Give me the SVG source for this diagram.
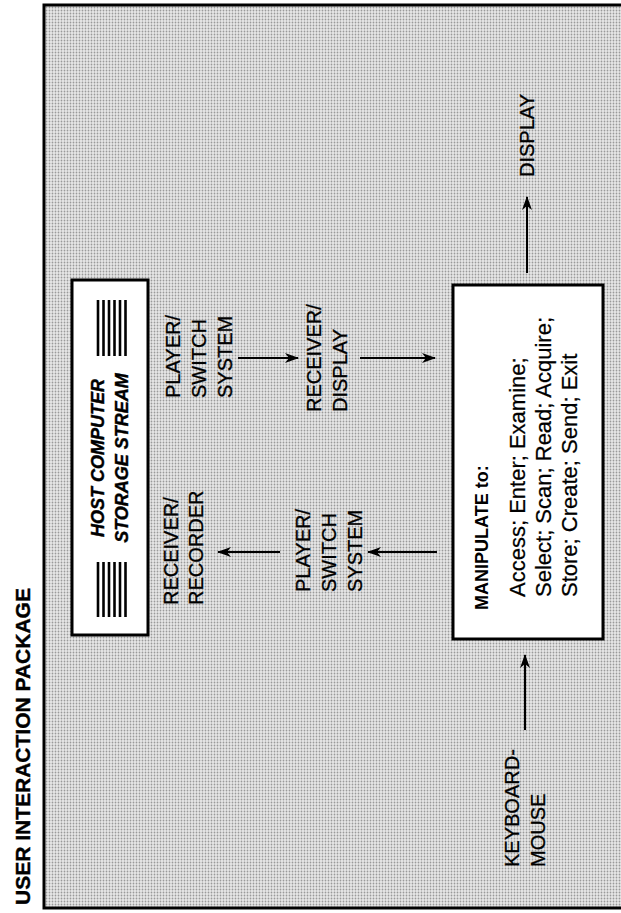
<svg xmlns="http://www.w3.org/2000/svg" width="621" height="913" viewBox="0 0 621 913">
<style>
  text { font-family: "Liberation Sans", Arial, sans-serif; fill: #000; }
  .lbl { font-size: 20px; stroke: #000; stroke-width: 0.3; }
  .title { font-size: 21px; font-weight: bold; stroke: #000; stroke-width: 0.4; }
  .host { font-size: 18px; font-weight: bold; font-style: italic; stroke: #000; stroke-width: 0.4; }
  .mb { font-size: 18px; font-weight: bold; }
  .mt { font-size: 22px; stroke: #000; stroke-width: 0.25; }
  .box { fill: #fff; stroke: #000; stroke-width: 3; }
  .conn { stroke: #000; stroke-width: 2; fill: none; marker-end: url(#ah); }
  .bar { stroke: #000; stroke-width: 2.6; }
</style>
<defs>
  <pattern id="dots" width="3" height="3" patternUnits="userSpaceOnUse">
    <rect width="3" height="3" fill="#e8e8e8"/>
    <circle cx="1.5" cy="1.5" r="0.9" fill="#9a9a9a"/>
  </pattern>
  <marker id="ah" viewBox="0 0 14 10" refX="13" refY="5" markerWidth="14" markerHeight="10" markerUnits="userSpaceOnUse" orient="auto">
    <path d="M0,0 L14,5 L0,10 L4,5 z" fill="#000"/>
  </marker>
</defs>
<rect width="621" height="913" fill="#fff"/>
<g id="title">
  <text class="title" transform="translate(30,905) rotate(-90)">USER INTERACTION PACKAGE</text>
</g>
<g id="frame">
  <rect x="44" y="5" width="600" height="903" fill="url(#dots)" stroke="#000" stroke-width="3"/>
</g>
<g id="host">
  <rect class="box" x="72" y="280" width="76" height="355"/>
  <g id="bars-top">
    <line class="bar" x1="98" y1="300" x2="98" y2="356"/>
    <line class="bar" x1="103.5" y1="300" x2="103.5" y2="356"/>
    <line class="bar" x1="109" y1="300" x2="109" y2="356"/>
    <line class="bar" x1="114.5" y1="300" x2="114.5" y2="356"/>
    <line class="bar" x1="120" y1="300" x2="120" y2="356"/>
    <line class="bar" x1="125.5" y1="300" x2="125.5" y2="356"/>
  </g>
  <g id="bars-bottom">
    <line class="bar" x1="98" y1="562" x2="98" y2="617"/>
    <line class="bar" x1="103.5" y1="562" x2="103.5" y2="617"/>
    <line class="bar" x1="109" y1="562" x2="109" y2="617"/>
    <line class="bar" x1="114.5" y1="562" x2="114.5" y2="617"/>
    <line class="bar" x1="120" y1="562" x2="120" y2="617"/>
    <line class="bar" x1="125.5" y1="562" x2="125.5" y2="617"/>
  </g>
  <text class="host" text-anchor="middle" transform="translate(104,458) rotate(-90)">HOST COMPUTER<tspan x="0" dy="24">STORAGE STREAM</tspan></text>
</g>
<g id="receiver-recorder">
  <text class="lbl" transform="translate(178,605) rotate(-90)">RECEIVER/<tspan x="0" dy="25">RECORDER</tspan></text>
</g>
<g id="player-switch-upper">
  <text class="lbl" transform="translate(180,398) rotate(-90)">PLAYER/<tspan x="0" dy="26">SWITCH</tspan><tspan x="0" dy="26">SYSTEM</tspan></text>
</g>
<g id="player-switch-lower">
  <text class="lbl" transform="translate(310,592) rotate(-90)">PLAYER/<tspan x="0" dy="26">SWITCH</tspan><tspan x="0" dy="26">SYSTEM</tspan></text>
</g>
<g id="receiver-display">
  <text class="lbl" transform="translate(321,412) rotate(-90)">RECEIVER/<tspan x="0" dy="26">DISPLAY</tspan></text>
</g>
<g id="manipulate">
  <rect class="box" x="453" y="285" width="150" height="354" stroke-width="2.5"/>
  <text class="mb" transform="translate(488,610) rotate(-90)">MANIPULATE to:</text>
  <text class="mt" transform="translate(525,597) rotate(-90)">Access; Enter; Examine;<tspan x="0" dy="26">Select; Scan; Read; Acquire;</tspan><tspan x="0" dy="26">Store; Create; Send; Exit</tspan></text>
</g>
<g id="display">
  <text class="lbl" transform="translate(534,177) rotate(-90)">DISPLAY</text>
</g>
<g id="keyboard-mouse">
  <text class="lbl" transform="translate(519,867) rotate(-90)">KEYBOARD-<tspan x="0" dy="26">MOUSE</tspan></text>
</g>
<g id="connectors">
  <line class="conn" x1="238" y1="358" x2="298" y2="358"/>
  <line class="conn" x1="360" y1="358" x2="435" y2="358"/>
  <line class="conn" x1="437" y1="552" x2="368" y2="552"/>
  <line class="conn" x1="280" y1="552" x2="218" y2="552"/>
  <line class="conn" x1="527" y1="273" x2="527" y2="197"/>
  <line class="conn" x1="525" y1="730" x2="525" y2="655"/>
</g>
</svg>
